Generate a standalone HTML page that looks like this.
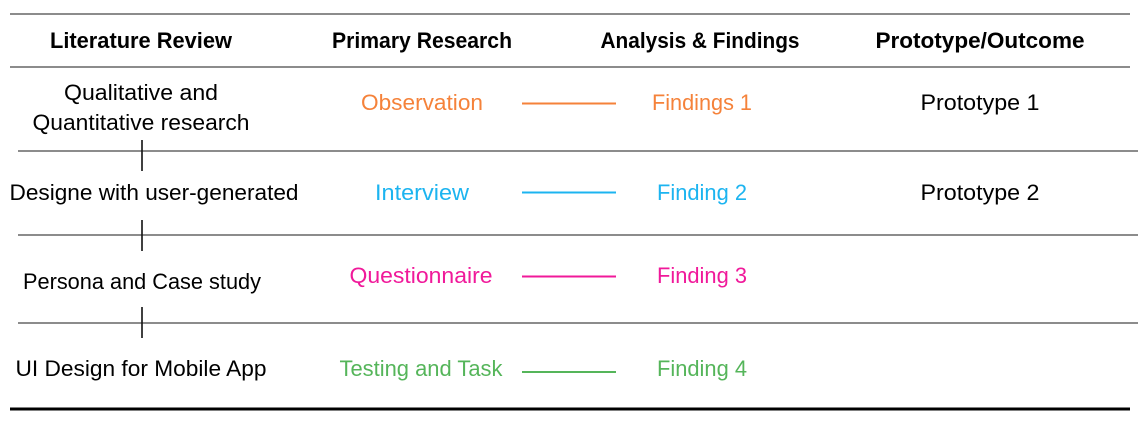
<!DOCTYPE html>
<html><head><meta charset="utf-8"><style>
html,body{margin:0;padding:0;background:#fff;width:1140px;height:424px;overflow:hidden}
svg text{font-family:"Liberation Sans",sans-serif;font-size:22px;text-anchor:middle}
</style></head><body>
<svg width="1140" height="424" viewBox="0 0 1140 424" xmlns="http://www.w3.org/2000/svg">
<g stroke="#666" stroke-width="1.6">
<line x1="10" y1="14" x2="1130" y2="14"/>
<line x1="10" y1="67" x2="1130" y2="67"/>
<line x1="18" y1="151" x2="1138" y2="151"/>
<line x1="18" y1="235" x2="1138" y2="235"/>
<line x1="18" y1="323" x2="1138" y2="323"/>
</g>
<line x1="10" y1="409" x2="1130" y2="409" stroke="#000" stroke-width="3"/>
<g stroke="#111" stroke-width="1.6">
<line x1="142" y1="140" x2="142" y2="171"/>
<line x1="142" y1="220" x2="142" y2="251"/>
<line x1="142" y1="307" x2="142" y2="338"/>
</g>
<g stroke-width="2">
<line x1="522" y1="103.5" x2="616" y2="103.5" stroke="#F5823A"/>
<line x1="522" y1="192.5" x2="616" y2="192.5" stroke="#1CB4F0"/>
<line x1="522" y1="276.5" x2="616" y2="276.5" stroke="#F0199A"/>
<line x1="522" y1="372" x2="616" y2="372" stroke="#55B55A"/>
</g>
<g font-weight="bold" fill="#000">
<text x="141" y="48" textLength="182" lengthAdjust="spacingAndGlyphs">Literature Review</text>
<text x="422" y="48" textLength="180" lengthAdjust="spacingAndGlyphs">Primary Research</text>
<text x="700" y="48" textLength="199" lengthAdjust="spacingAndGlyphs">Analysis &amp; Findings</text>
<text x="980" y="48" textLength="209" lengthAdjust="spacingAndGlyphs">Prototype/Outcome</text>
</g>
<g fill="#000">
<text x="141" y="100" textLength="154" lengthAdjust="spacingAndGlyphs">Qualitative and</text>
<text x="141" y="130" textLength="217" lengthAdjust="spacingAndGlyphs">Quantitative research</text>
<text x="154" y="200" textLength="289" lengthAdjust="spacingAndGlyphs">Designe with user-generated</text>
<text x="142" y="289" textLength="238" lengthAdjust="spacingAndGlyphs">Persona and Case study</text>
<text x="141" y="376" textLength="251" lengthAdjust="spacingAndGlyphs">UI Design for Mobile App</text>
<text x="980" y="110" textLength="119" lengthAdjust="spacingAndGlyphs">Prototype 1</text>
<text x="980" y="200" textLength="119" lengthAdjust="spacingAndGlyphs">Prototype 2</text>
</g>
<g fill="#F5823A">
<text x="422" y="110" textLength="122" lengthAdjust="spacingAndGlyphs">Observation</text>
<text x="702" y="110" textLength="100" lengthAdjust="spacingAndGlyphs">Findings 1</text>
</g>
<g fill="#1CB4F0">
<text x="422" y="200" textLength="94" lengthAdjust="spacingAndGlyphs">Interview</text>
<text x="702" y="200" textLength="90" lengthAdjust="spacingAndGlyphs">Finding 2</text>
</g>
<g fill="#F0199A">
<text x="421" y="283" textLength="143" lengthAdjust="spacingAndGlyphs">Questionnaire</text>
<text x="702" y="283" textLength="90" lengthAdjust="spacingAndGlyphs">Finding 3</text>
</g>
<g fill="#55B55A">
<text x="421" y="376" textLength="163" lengthAdjust="spacingAndGlyphs">Testing and Task</text>
<text x="702" y="376" textLength="90" lengthAdjust="spacingAndGlyphs">Finding 4</text>
</g>
</svg>
</body></html>
